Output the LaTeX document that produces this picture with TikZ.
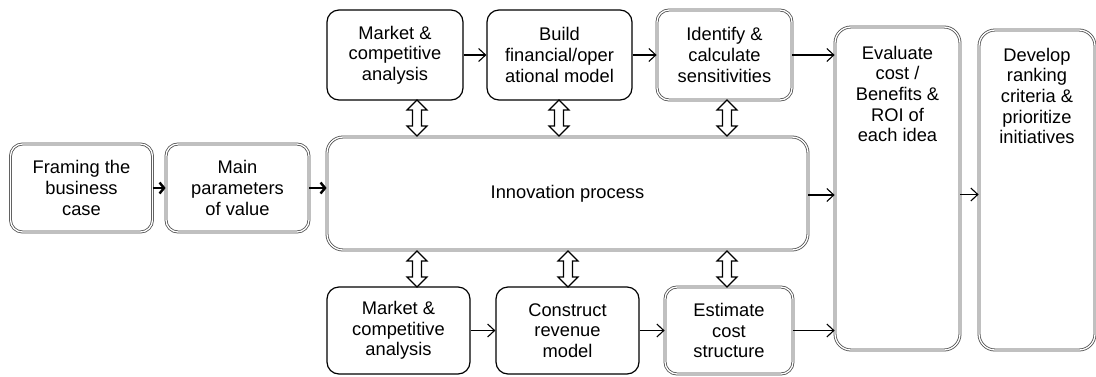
\documentclass[tikz,border=0pt]{standalone}
\usepackage{fontspec}
\setmainfont{Liberation Sans}
\usetikzlibrary{arrows.meta}
\newcommand\hollowarrow[3]{%
  \draw[fill=white,line width=1.1pt,line join=miter]
    (#1,#2) -- ++(10,10) -- ++(-5.5,0) -- (#1+4.5,#3-10) -- ++(5.5,0) -- (#1,#3)
    -- ++(-10,-10) -- ++(5.5,0) -- (#1-4.5,#2+10) -- ++(-5.5,0) -- cycle;}
\begin{document}
\begin{tikzpicture}[x=1pt,y=-1pt,
  font=\fontsize{18.3}{20.7}\selectfont,
  sbox/.style={draw=black,line width=1.2pt,rounded corners=12pt,align=center,inner sep=0pt},
  dbox/.style={draw=black!70,line width=0.8pt,double=white,double distance=1.3pt,rounded corners=12pt,align=center,inner sep=0pt},
  conn/.style={line width=1.1pt,-{Straight Barb[length=7pt,width=13pt,line width=1.1pt]}},
  thick conn/.style={line width=2.4pt,-{Straight Barb[length=4.5pt,width=11pt]}}
]
\useasboundingbox (0,0) rectangle (1096,376);
\node[dbox,minimum width=142,minimum height=88] (frame) at (81.5,188) {Framing the\\business\\case};
\node[dbox,minimum width=143,minimum height=88] (main) at (237.5,188) {Main\\parameters\\of value};
\node[dbox,rounded corners=16pt,minimum width=481,minimum height=113] (innov) at (567.5,193.5) {Innovation process};
\node[sbox,minimum width=136,minimum height=90] (mkt1) at (395,55) {Market \&\\competitive\\analysis};
\node[sbox,minimum width=145,minimum height=90] (build) at (559.5,55) {Build\\financial/oper\\ational model};
\node[dbox,minimum width=135,minimum height=90] (ident) at (724.5,55) {Identify \&\\calculate\\sensitivities};
\node[sbox,minimum width=143,minimum height=87] (mkt2) at (398.5,330.5) {Market \&\\competitive\\analysis};
\node[sbox,minimum width=143,minimum height=87] (constr) at (567.5,330.5) {Construct\\revenue\\model};
\node[dbox,minimum width=128,minimum height=87] (est) at (729,330.5) {Estimate\\cost\\structure};
\node[dbox,rounded corners=16pt,minimum width=125,minimum height=323,
  label={[anchor=north,inner sep=0pt,yshift=-19pt,align=center]north:{Evaluate\\cost /\\Benefits \&\\ROI of\\each idea}}] (eval) at (897.5,188.5) {};
\node[dbox,rounded corners=16pt,minimum width=116,minimum height=320,
  label={[anchor=north,inner sep=0pt,yshift=-18pt,align=center]north:{Develop\\ranking\\criteria \&\\prioritize\\initiatives}}] (dev) at (1037,190) {};

\draw[thick conn] (frame) -- (main);
\draw[thick conn] (main) -- (main -| innov.west);
\draw[conn] (mkt1) -- (build);
\draw[conn] (build) -- (ident);
\draw[conn] (mkt2) -- (constr);
\draw[conn] (constr) -- (est);
\draw[conn] (ident.east) -- (ident.east -| eval.west);
\draw[conn] ([yshift=-1.5pt]innov.east) -- ([yshift=-1.5pt]innov.east -| eval.west);
\draw[conn] (est.east) -- (est.east -| eval.west);
\draw[conn] ([yshift=-6pt]eval.east) -- ([yshift=-6pt]eval.east -| dev.west);

\hollowarrow{417}{100}{136}
\hollowarrow{559}{100}{136}
\hollowarrow{727}{100}{136}
\hollowarrow{417}{251}{287}
\hollowarrow{568}{251}{287}
\hollowarrow{727}{251}{287}
\end{tikzpicture}
\end{document}
